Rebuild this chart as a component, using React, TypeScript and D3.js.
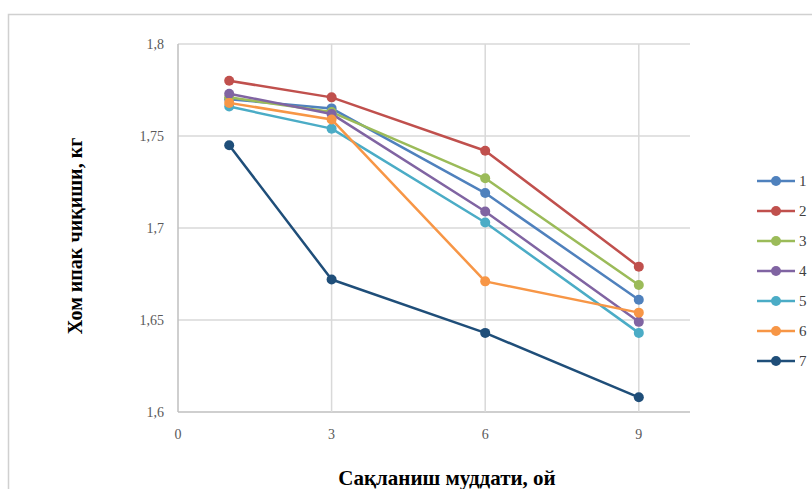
import * as d3 from 'd3';
import { useEffect, useRef } from 'react';

const months = [1, 3, 6, 9];
const seriesNames = ['1', '2', '3', '4', '5', '6', '7'];
const seriesColors = ['#4F81BD', '#C0504D', '#9BBB59', '#8064A2', '#4BACC6', '#F79646', '#1F4E79'];
const s1 = [1.770, 1.765, 1.719, 1.661];
const s2 = [1.780, 1.771, 1.742, 1.679];
const s3 = [1.771, 1.763, 1.727, 1.669];
const s4 = [1.773, 1.762, 1.709, 1.649];
const s5 = [1.766, 1.754, 1.703, 1.643];
const s6 = [1.768, 1.759, 1.671, 1.654];
const s7 = [1.745, 1.672, 1.643, 1.608];
const xTicks = [0, 3, 6, 9];
const yTicks = [1.6, 1.65, 1.7, 1.75, 1.8];

const App = () => {
  const ref = useRef<SVGSVGElement>(null);

  useEffect(() => {
    const svg = d3.select(ref.current);
    svg.selectAll('*').remove();
    const all = [s1, s2, s3, s4, s5, s6, s7];
    const font = '"Liberation Serif", "Times New Roman", serif';

    const x = d3.scaleLinear().domain([0, 10]).range([178, 690]);
    const y = d3.scaleLinear().domain([1.6, 1.8]).range([412, 44]);

    // chart frame
    svg.append('rect')
      .attr('x', 8.5).attr('y', 14.5)
      .attr('width', 820).attr('height', 500)
      .attr('fill', 'white').attr('stroke', '#d0d0d0').attr('stroke-width', 1.5);

    const grid = svg.append('g');
    grid.selectAll('.hg')
      .data(yTicks)
      .enter()
      .append('line')
      .attr('x1', x(0)).attr('x2', x(10))
      .attr('y1', (d) => y(d)).attr('y2', (d) => y(d))
      .attr('stroke', (d) => (d === 1.6 ? '#bfbfbf' : '#d9d9d9'))
      .attr('stroke-width', 1.5);
    grid.selectAll('.vg')
      .data(xTicks)
      .enter()
      .append('line')
      .attr('x1', (d) => x(d)).attr('x2', (d) => x(d))
      .attr('y1', y(1.8)).attr('y2', y(1.6))
      .attr('stroke', (d) => (d === 0 ? '#bfbfbf' : '#d9d9d9'))
      .attr('stroke-width', 1.5);

    // tick labels
    svg.append('g').selectAll('text')
      .data(yTicks)
      .enter()
      .append('text')
      .attr('x', x(0) - 14)
      .attr('y', (d) => y(d))
      .attr('dy', '0.35em')
      .attr('text-anchor', 'end')
      .attr('font-family', font)
      .attr('font-size', 14)
      .attr('fill', '#595959')
      .text((d) => d3.format('.3~f')(d).replace('.', ','));

    svg.append('g').selectAll('text')
      .data(xTicks)
      .enter()
      .append('text')
      .attr('x', (d) => x(d))
      .attr('y', y(1.6) + 27)
      .attr('text-anchor', 'middle')
      .attr('font-family', font)
      .attr('font-size', 14)
      .attr('fill', '#595959')
      .text((d) => d);

    // axis titles
    svg.append('text')
      .attr('x', 447).attr('y', 485)
      .attr('text-anchor', 'middle')
      .attr('font-family', font)
      .attr('font-size', 21)
      .attr('font-weight', 'bold')
      .attr('fill', '#000')
      .text('Сақланиш  муддати, ой');

    svg.append('text')
      .attr('transform', 'translate(82,' + 236 + ') rotate(-90)')
      .attr('text-anchor', 'middle')
      .attr('font-family', font)
      .attr('font-size', 20)
      .attr('font-weight', 'bold')
      .attr('fill', '#000')
      .text('Хом ипак чиқиши, кг');

    const line = d3.line<number>()
      .x((d, i) => x(months[i]))
      .y((d) => y(d));

    all.forEach((vals, si) => {
      const g = svg.append('g');
      g.append('path')
        .datum(vals)
        .attr('d', line)
        .attr('fill', 'none')
        .attr('stroke', seriesColors[si])
        .attr('stroke-width', 2.5)
        .attr('stroke-linejoin', 'round');
      g.selectAll('circle')
        .data(vals)
        .enter()
        .append('circle')
        .attr('cx', (d, i) => x(months[i]))
        .attr('cy', (d) => y(d))
        .attr('r', 5)
        .attr('fill', seriesColors[si]);
    });

    // legend
    const legend = svg.append('g').selectAll('g')
      .data(seriesNames)
      .enter()
      .append('g')
      .attr('transform', (d, i) => 'translate(757,' + (181 + i * 30) + ')');
    legend.append('line')
      .attr('x1', 0).attr('x2', 38)
      .attr('stroke', (d, i) => seriesColors[i])
      .attr('stroke-width', 2.5);
    legend.append('circle')
      .attr('cx', 19).attr('r', 5)
      .attr('fill', (d, i) => seriesColors[i]);
    legend.append('text')
      .attr('x', 42).attr('dy', '0.35em')
      .attr('font-family', font)
      .attr('font-size', 15)
      .attr('fill', '#404040')
      .text((d) => d);
  }, []);

  return (
    <svg
      ref={ref}
      width={812}
      height={489}
      style={{ position: 'absolute', left: 0, top: 0, background: 'white' }}
    ></svg>
  );
};

export default App;
